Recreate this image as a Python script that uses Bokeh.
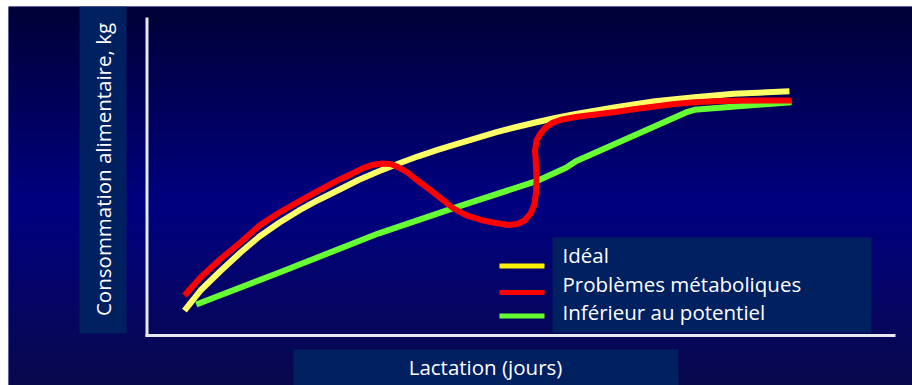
import numpy as np
from bokeh.plotting import figure
from bokeh.models import Range1d, BoxAnnotation, Label
from bokeh.embed import file_html
from bokeh.resources import INLINE

# ---------------- data (days of lactation, feed intake kg) ----------------
SERIES_NAMES = ["Idéal", "Problèmes métaboliques", "Inférieur au potentiel"]
X_LABEL = "Lactation (jours)"
Y_LABEL = "Consommation alimentaire, kg"

ideal_days = [17.6, 25.2, 34.5, 44.3, 53.3, 62.9, 72.2, 81.4, 91.0, 100.5, 109.9, 119.0,
              128.6, 138.1, 147.5, 156.7, 166.2, 175.7, 185.2, 194.3, 204.0, 222.9,
              241.7, 260.5, 279.3, 305.7]
ideal_kg = [9.64, 11.07, 12.43, 13.79, 14.93, 15.93, 16.79, 17.54, 18.25, 18.96, 19.57, 20.11,
            20.64, 21.11, 21.55, 21.96, 22.38, 22.75, 23.09, 23.39, 23.69, 24.16,
            24.59, 24.88, 25.12, 25.31]

metab_days = [17.62, 25.24, 34.52, 44.29, 53.33, 62.86, 72.19, 81.43, 90.95, 96.67, 102.38,
              107.14, 111.76, 115.71, 119.29, 123.81, 128.57, 134.29, 140.0, 145.71, 151.9,
              158.81, 165.71, 171.9, 176.19, 179.52, 182.38, 184.29, 185.0, 185.24, 185.0,
              184.52, 185.24, 187.14, 189.52, 192.71, 197.62, 204.0, 213.33, 222.86, 232.38,
              241.67, 250.95, 260.48, 270.0, 279.33, 291.9, 306.67]
metab_kg = [10.71, 12.0, 13.29, 14.5, 15.71, 16.64, 17.43, 18.21, 18.96, 19.36, 19.79,
            20.04, 20.14, 20.11, 19.89, 19.5, 18.93, 18.29, 17.61, 16.93, 16.43,
            16.11, 15.89, 15.75, 15.82, 16.07, 16.57, 17.21, 18.07, 18.93, 20.0,
            21.07, 21.79, 22.29, 22.71, 23.04, 23.29, 23.46, 23.64, 23.82, 24.04,
            24.21, 24.39, 24.52, 24.59, 24.62, 24.64, 24.64]

low_days = [23.24, 62.81, 109.86, 147.52, 185.19, 199.29, 204.0, 256.71, 260.48, 306.67]
low_kg = [10.07, 12.36, 15.14, 17.05, 18.88, 19.84, 20.31, 23.81, 23.98, 24.52]

# ---------------- layout helpers (pixel -> data) ----------------
W, H = 912, 385
PX_PER_DAY, PX_PER_KG = 2.1, 14.0
ORIGIN_PX, ORIGIN_PY, ORIGIN_KG = 147.0, 333.0, 8.0
TXT = 10  # text placement correction (px)


def X(px):
    return (px - ORIGIN_PX) / PX_PER_DAY


def Y(py):
    return ORIGIN_KG + (ORIGIN_PY - py) / PX_PER_KG


LEFT_PAD, TOP_PAD = 8, 6
X0, X1 = X(LEFT_PAD), X(W)
Y0, Y1 = Y(H), Y(TOP_PAD)

p = figure(width=W, height=H, x_range=Range1d(X0, X1), y_range=Range1d(Y0, Y1),
           output_backend="svg", toolbar_location=None,
           x_axis_location=None, y_axis_location=None,
           min_border_left=LEFT_PAD, min_border_top=TOP_PAD,
           min_border_right=0, min_border_bottom=0,
           border_fill_color="white", outline_line_color=None,
           background_fill_color="#000080")
p.grid.grid_line_color = None

# background vertical gradient
rows = H - TOP_PAD
cy = TOP_PAD + np.arange(rows) + 0.5
stops_y = [TOP_PAD, 205, H]
r = np.interp(cy, stops_y, [0, 0, 8])
g = np.interp(cy, stops_y, [0, 0, 8])
b = np.interp(cy, stops_y, [54, 128, 76])
img = np.empty((rows, 2), dtype=np.uint32)
view = img.view(dtype=np.uint8).reshape((rows, 2, 4))
for k, ch in enumerate([r, g, b]):
    view[:, :, k] = np.round(ch[::-1])[:, None].astype(np.uint8)
view[:, :, 3] = 255
p.image_rgba(image=[img], x=X0, y=Y0, dw=X1 - X0, dh=Y1 - Y0)

# axes lines
AXIS_COLOR = "#e8e8f2"
p.segment(x0=[X(146.5)], y0=[Y(336.5)], x1=[X(146.5)], y1=[Y(17)], line_color=AXIS_COLOR, line_width=3)
p.segment(x0=[X(145)], y0=[Y(335)], x1=[X(895)], y1=[Y(335)], line_color=AXIS_COLOR, line_width=3)

COLORS = ["#FFFF66", "#FF0000", "#66FF33"]
LEGEND_COLORS = ["#FFF200", "#FF0000", "#66FF33"]

p.line(ideal_days, ideal_kg, line_color=COLORS[0], line_width=6, line_join="round", line_cap="butt")
p.line(low_days, low_kg, line_color=COLORS[2], line_width=6, line_join="round", line_cap="butt")
p.line(metab_days, metab_kg, line_color=COLORS[1], line_width=6, line_join="round", line_cap="butt")

BOX = "#002060"
# y-label box, x-label box, legend box
p.add_layout(BoxAnnotation(left=X(79), right=X(126), bottom=Y(333), top=Y(6),
                           fill_color=BOX, fill_alpha=1, line_color=None))
p.add_layout(BoxAnnotation(left=X(293), right=X(678), bottom=Y(385), top=Y(349),
                           fill_color=BOX, fill_alpha=1, line_color=None))
p.add_layout(BoxAnnotation(left=X(552), right=X(871), bottom=Y(332), top=Y(237),
                           fill_color=BOX, fill_alpha=1, line_color=None))

FONT = "Open Sans"
FS = "20.5px"
p.add_layout(Label(x=X(112 - TXT), y=Y(169), text=Y_LABEL, angle=np.pi / 2, text_align="center",
                   text_baseline="alphabetic", text_color="white", text_font=FONT, text_font_size=FS))
p.add_layout(Label(x=X(485), y=Y(376 - TXT), text=X_LABEL, text_align="center",
                   text_baseline="alphabetic", text_color="white", text_font=FONT, text_font_size=FS))

legend_line_py = [265.5, 292, 315.5]
legend_text_py = [264.3, 293.3, 321.7]
for name, col, lpy, tpy in zip(SERIES_NAMES, LEGEND_COLORS, legend_line_py, legend_text_py):
    p.segment(x0=[X(499)], y0=[Y(lpy)], x1=[X(544)], y1=[Y(lpy)], line_color=col, line_width=5)
    p.add_layout(Label(x=X(562), y=Y(tpy - TXT), text=name, text_align="left", text_baseline="alphabetic",
                       text_color="white", text_font=FONT, text_font_size=FS))

open("out.html", "w").write(file_html(p, INLINE))
